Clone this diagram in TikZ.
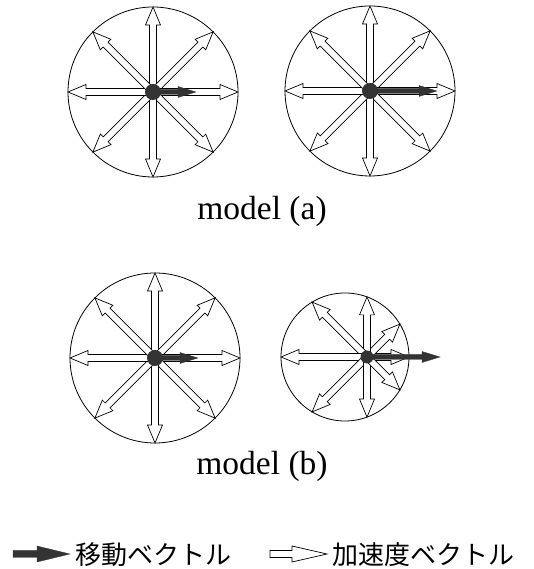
\documentclass[tikz,border=0pt]{standalone}
\usepackage{fontspec}
\setmainfont{Liberation Serif}
\newfontfamily\cjk{Noto Sans CJK JP}
\usetikzlibrary{calc}
\tikzset{
 ring/.style={draw, circle, line width=0.8pt, inner sep=0pt, outer sep=0pt},
 hub/.style={circle, fill=black!80, inner sep=0pt, outer sep=0pt, minimum size=16pt},
 accline/.style={draw=black, fill=white, line width=0.7pt, line join=miter},
 movline/.style={draw=black!80, fill=black!80, line width=0.3pt},
 modeltext/.style={font=\fontsize{33.5}{36}\selectfont, inner sep=0pt, anchor=base},
 legtext/.style={font=\cjk\fontsize{26}{30}\selectfont, inner sep=0pt, anchor=base west},
}
% style, from, to, shaft half width, head half width, head length
\newcommand{\vecarrow}[6]{%
  \coordinate (hb) at ($(#3)!#6!(#2)$);
  \path[#1] ($(#2)!#4!90:(#3)$) -- ($(hb)!#4!90:(#3)$) -- ($(hb)!#5!90:(#3)$) -- (#3)
    -- ($(hb)!#5!-90:(#3)$) -- ($(hb)!#4!-90:(#3)$) -- ($(#2)!#4!-90:(#3)$) -- cycle;
}
\newcommand{\acc}[2]{\vecarrow{accline}{#1}{#2}{3.5pt}{7.5pt}{18pt}}
\newcommand{\mov}[2]{\vecarrow{movline}{#1}{#2}{2.5pt}{5.5pt}{18pt}}
\newcommand{\fullwheel}[1]{%
  \foreach \an in {north,north east,east,south east,south,south west,west,north west}
    {\acc{#1.center}{#1.\an}}
}
\begin{document}
\begin{tikzpicture}[x=1pt,y=1pt]
\useasboundingbox (0,0) rectangle (533,569);

% ---- model (a), left
\node[ring, minimum size=170pt] (c1) at (153,477) {};
\fullwheel{c1}
\node[hub] (d1) at (c1.center) {};
\coordinate (m1) at (196,477);
\mov{d1.center}{m1}

% ---- model (a), right
\node[ring, minimum size=170pt] (c2) at (370,478) {};
\fullwheel{c2}
\node[hub] (d2) at (c2.center) {};
\coordinate (m2) at (437,478);
\mov{d2.center}{m2}

\node[modeltext] (ta) at (262,349) {model (a)};

% ---- model (b), left
\node[ring, minimum size=170pt] (c3) at (155,211) {};
\fullwheel{c3}
\node[hub] (d3) at (c3.center) {};
\coordinate (m3) at (198,211);
\mov{d3.center}{m3}

% ---- model (b), right
\node[ring, minimum size=128pt] (c4) at (345,212) {};
\coordinate (o4) at (367,212);
\coordinate (e4)  at ($(o4)+(0:42)$);
\coordinate (ne4) at ($(o4)+(45:46.5)$);
\coordinate (n4)  at ($(o4)+(90:60.1)$);
\coordinate (nw4) at ($(o4)+(135:77.6)$);
\coordinate (w4)  at ($(o4)+(180:86)$);
\coordinate (sw4) at ($(o4)+(225:77.6)$);
\coordinate (s4)  at ($(o4)+(270:60.1)$);
\coordinate (se4) at ($(o4)+(315:46.5)$);
\foreach \t in {e4,ne4,n4,nw4,w4,sw4,s4,se4} {\acc{o4}{\t}}
\node[hub, minimum size=13pt] (d4) at (o4) {};
\coordinate (m4) at (440,212);
\mov{d4.center}{m4}

\node[modeltext] (tb) at (262,94) {model (b)};

% ---- legend
\coordinate (la) at (13,15);
\coordinate (lb) at (70,15);
\vecarrow{movline}{la}{lb}{3.5pt}{8pt}{33pt}
\node[legtext] (t1) at (75,5) {移動ベクトル};
\coordinate (lc) at (270,15);
\coordinate (ld) at (327,15);
\vecarrow{accline}{lc}{ld}{3.5pt}{8pt}{35pt}
\node[legtext] (t2) at (332,5) {加速度ベクトル};
\end{tikzpicture}
\end{document}
